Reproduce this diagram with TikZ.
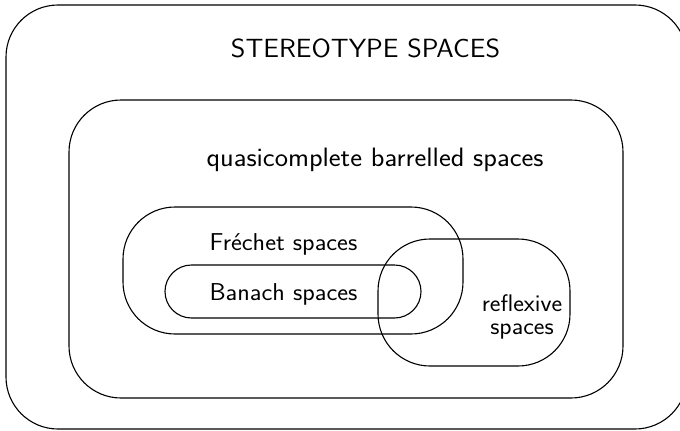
\documentclass[tikz,border=0pt]{standalone}
\begin{document}
\begin{tikzpicture}[x=1pt,y=-1pt,
  region/.style={draw=black, line width=1.1pt, rounded corners=#1, inner sep=0pt},
  region/.default=52pt,
  label/.style={font=\sffamily, inner sep=0pt, anchor=base, xscale=1.06}]
\useasboundingbox (0,0) rectangle (680,431);

% nested regions
\node[region, minimum width=681pt, minimum height=424pt] (stereo) at (346.5,217) {};
\node[region, minimum width=554pt, minimum height=298pt] (qcb) at (346,249) {};
\node[region, minimum width=340pt, minimum height=127pt] (frechet) at (293,270.5) {};
\node[region=26.5pt, minimum width=256pt, minimum height=53pt] (banach) at (293,291.5) {};
\node[region, minimum width=192pt, minimum height=127pt] (reflexive) at (474,302.5) {};

% captions
\node[label, font=\sffamily\fontsize{26.3}{30}\selectfont] (tstereo) at (365.5,57) {STEREOTYPE SPACES};
\node[label, font=\sffamily\fontsize{26.6}{30}\selectfont] (tqcb) at (375,166) {quasicomplete barrelled spaces};
\node[label, font=\sffamily\fontsize{24.4}{28}\selectfont] (tfrechet) at (283.5,250) {Fréchet spaces};
\node[label, font=\sffamily\fontsize{24.4}{28}\selectfont] (tbanach) at (283.5,300) {Banach spaces};
\node[label, font=\sffamily\fontsize{24}{28}\selectfont] (treflexive1) at (522,311) {reflexive};
\node[label, font=\sffamily\fontsize{24}{28}\selectfont] (treflexive2) at (522,334) {spaces};
\end{tikzpicture}
\end{document}
